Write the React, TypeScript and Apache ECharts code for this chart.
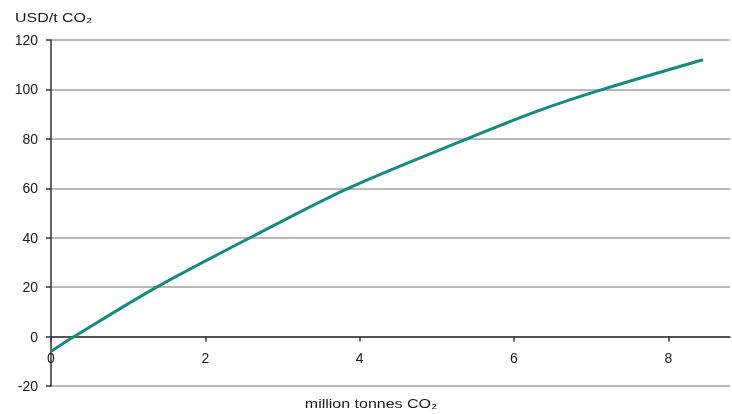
import React, { useEffect, useRef } from "react";
import * as echarts from "echarts";

const abatementMt = [0, 0.3, 1.37, 2.58, 3.85, 5.39, 6.33, 7.15, 8.45];
const costUsd = [-6, 0, 20, 40, 60, 80, 91.5, 100, 112];
const xTicks = [0, 2, 4, 6, 8];
const yTitle = "USD/t CO₂";
const xTitle = "million tonnes CO₂";

export default function App() {
  const ref = useRef<HTMLDivElement>(null);
  useEffect(() => {
    if (!ref.current) return;
    const chart = echarts.init(ref.current, undefined, { renderer: "svg" });
    const font = "Liberation Sans";
    chart.setOption({
      animation: false,
      grid: { left: 51, right: 2, top: 40, bottom: 28 },
      xAxis: {
        type: "value",
        min: 0,
        max: 8.8,
        interval: 2,
        position: "bottom",
        offset: -49.4,
        axisLine: { show: true, onZero: false, lineStyle: { color: "#333", width: 1.5 } },
        axisTick: { show: true, length: 5, customValues: xTicks, lineStyle: { color: "#333", width: 1.5 } },
        axisLabel: {
          margin: 14,
          color: "#1a1a1a",
          fontFamily: font,
          fontSize: 14,
          showMaxLabel: false,
          formatter: (v: number) => (xTicks.indexOf(v) >= 0 ? String(v) : ""),
        },
        splitLine: { show: false },
      },
      yAxis: {
        type: "value",
        min: -20,
        max: 120,
        interval: 20,
        axisLine: { show: true, lineStyle: { color: "#333", width: 1.5 } },
        axisTick: { show: true, length: 5, lineStyle: { color: "#333", width: 1.5 } },
        axisLabel: { margin: 13, color: "#1a1a1a", fontFamily: font, fontSize: 14 },
        splitLine: { show: true, lineStyle: { color: "#a0a0a0", width: 1.5 } },
      },
      graphic: [
        {
          type: "text",
          x: 15,
          y: 18,
          scaleX: 1.23,
          style: { text: yTitle, fontFamily: font, fontSize: 13, fill: "#1a1a1a", align: "left", verticalAlign: "middle" },
        },
        {
          type: "text",
          x: 371,
          y: 404,
          scaleX: 1.23,
          style: { text: xTitle, fontFamily: font, fontSize: 13, fill: "#1a1a1a", align: "center", verticalAlign: "middle" },
        },
      ],
      series: [
        {
          type: "line",
          data: abatementMt.map((x, i) => [x, costUsd[i]]),
          smooth: 0.3,
          showSymbol: false,
          lineStyle: { color: "#158a80", width: 3 },
        },
      ],
    });
    return () => chart.dispose();
  }, []);
  return <div ref={ref} style={{ position: "fixed", left: 0, top: 0, width: 732, height: 414 }} />;
}
